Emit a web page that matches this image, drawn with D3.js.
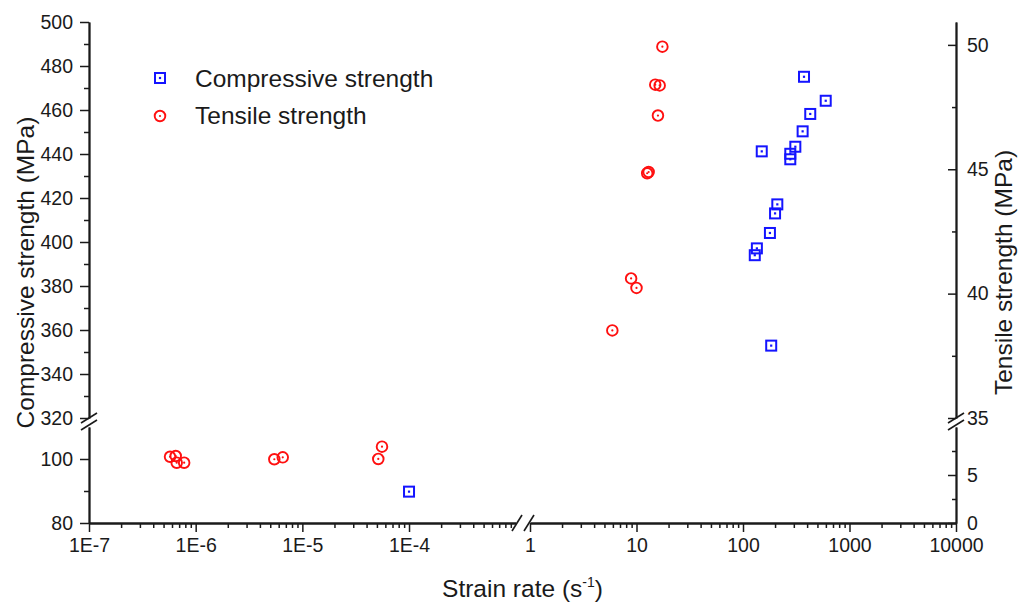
<!DOCTYPE html>
<html>
<head>
<meta charset="utf-8">
<script src="https://cdn.jsdelivr.net/npm/d3@7"></script>
<style>
  body { margin: 0; background: #fff; }
  svg text { font-family: "Liberation Sans", Arial, sans-serif; fill: #1a1a1a; }
</style>
</head>
<body>
<div id="chart"></div>
<script>
// compressive strength (left axis, MPa) vs strain rate (1/s)
var compRate = [374, 598, 428, 363, 310, 278, 278, 150, 210, 200, 179, 135, 129, 184, 1e-4];
var compStrength = [475.1, 464.2, 458.2, 450.3, 443.3, 440.1, 437.6, 441.2, 417.1, 413.0, 404.1, 397.1, 394.0, 352.9, 89.8];

// tensile strength (right axis, MPa) vs strain rate (1/s)
var tensRate = [17.5, 15.0, 16.5, 15.9, 12.6, 13.0, 8.9, 10.0, 5.93,
                5.75e-7, 6.5e-7, 6.64e-7, 7.8e-7, 5.46e-6, 6.55e-6, 5.15e-5, 5.58e-5];
var tensStrength = [49.93, 48.4, 48.37, 47.16, 44.84, 44.89, 40.61, 40.23, 38.52,
                    6.9, 6.98, 6.28, 6.28, 6.64, 6.84, 6.67, 7.95];

// tick labels
var xLowTicks = [1e-7, 1e-6, 1e-5, 1e-4];
var xLowLabels = ["1E-7", "1E-6", "1E-5", "1E-4"];
var xHighTicks = [1, 10, 100, 1000, 10000];
var xHighLabels = ["1", "10", "100", "1000", "10000"];
var yLeftUpTicks = [320, 340, 360, 380, 400, 420, 440, 460, 480, 500];
var yLeftLowTicks = [80, 100];
var yRightUpTicks = [35, 40, 45, 50];
var yRightLowTicks = [0, 5];

var legendNames = ["Compressive strength", "Tensile strength"];

(function(){
var W = 1019, H = 603;
var pL = 89, pR = 956, pT = 22, pB = 523;
var blue = "#1414ff", red = "#ff1010";
var tickFont = 19.5, titleFont = 24.5;

var svg = d3.select("#chart").append("svg")
    .attr("width", W)
    .attr("height", H);

// broken x scale
var xLow = d3.scaleLog().domain([1e-7, 1e-3]).range([pL, 515.7]);
var xHigh = d3.scaleLog().domain([1, 1e4]).range([530, pR]);
function xPos(v){
    return v < 0.01 ? xLow(v) : xHigh(v);
}

// broken y scales
var yLeftUp = d3.scaleLinear().domain([320, 500]).range([418, pT]);
var yLeftLow = d3.scaleLinear().domain([80, 110]).range([pB, 427]);
var yRightUp = d3.scaleLinear().domain([35, 50.92]).range([418, pT]);
var yRightLow = d3.scaleLinear().domain([0, 10]).range([pB, 427]);
function yLeft(v){ return v > 200 ? yLeftUp(v) : yLeftLow(v); }
function yRight(v){ return v > 20 ? yRightUp(v) : yRightLow(v); }

function minorsLog(lo, hi){
    var out = [];
    for (var e = lo; e < hi; e++){
        for (var k = 2; k <= 9; k++) out.push(k * Math.pow(10, e));
    }
    return out;
}

function styleAxis(g){
    g.selectAll("path.domain").attr("stroke", "#1a1a1a").attr("stroke-width", 1.8);
    g.selectAll(".tick line").attr("stroke", "#1a1a1a").attr("stroke-width", 1.5);
    g.selectAll(".tick text").attr("font-size", tickFont).attr("fill", "#1a1a1a")
        .style("font-family", "'Liberation Sans', Arial, sans-serif");
}

function minorAxis(axis){
    return axis.tickSize(5).tickFormat("").tickSizeOuter(0);
}

// x axis, two pieces
var gx = svg.append("g").attr("transform", "translate(0," + pB + ")");
gx.append("g").call(minorAxis(d3.axisBottom(xLow).tickValues(minorsLog(-7, -3)))).call(styleAxis);
gx.append("g").call(minorAxis(d3.axisBottom(xHigh).tickValues(minorsLog(0, 4)))).call(styleAxis);
gx.append("g").call(d3.axisBottom(xLow).tickValues(xLowTicks).tickSize(9).tickSizeOuter(0).tickPadding(6)
    .tickFormat(function(d, i){ return xLowLabels[i]; })).call(styleAxis);
gx.append("g").call(d3.axisBottom(xHigh).tickValues(xHighTicks).tickSize(9).tickSizeOuter(0).tickPadding(6)
    .tickFormat(function(d, i){ return xHighLabels[i]; })).call(styleAxis);

// left y axis, two pieces
var gl = svg.append("g").attr("transform", "translate(" + pL + ",0)");
gl.append("g").call(minorAxis(d3.axisLeft(yLeftUp).tickValues(d3.range(330, 500, 20)))).call(styleAxis);
gl.append("g").call(minorAxis(d3.axisLeft(yLeftLow).tickValues([90]))).call(styleAxis);
gl.append("g").call(d3.axisLeft(yLeftUp).tickValues(yLeftUpTicks).tickSize(9).tickSizeOuter(0).tickPadding(7)
    .tickFormat(d3.format("d"))).call(styleAxis);
gl.append("g").call(d3.axisLeft(yLeftLow).tickValues(yLeftLowTicks).tickSize(9).tickSizeOuter(0).tickPadding(7)
    .tickFormat(d3.format("d"))).call(styleAxis);

// right y axis, ticks pointing inward
var gr = svg.append("g").attr("transform", "translate(" + pR + ",0)");
gr.append("g").call(d3.axisRight(yRightUp).tickValues([37.5, 42.5, 47.5]).tickSize(-4).tickSizeOuter(0).tickFormat(""))
    .call(styleAxis);
gr.append("g").call(d3.axisRight(yRightLow).tickValues([2.5, 7.5]).tickSize(-4).tickSizeOuter(0).tickFormat(""))
    .call(styleAxis);
gr.append("g").call(d3.axisRight(yRightUp).tickValues(yRightUpTicks).tickSize(-8).tickSizeOuter(0).tickPadding(11)
    .tickFormat(d3.format("d"))).call(styleAxis);
gr.append("g").call(d3.axisRight(yRightLow).tickValues(yRightLowTicks).tickSize(-8).tickSizeOuter(0).tickPadding(11)
    .tickFormat(d3.format("d"))).call(styleAxis);

// break marks
function slash(x, y, dx, dy){
    svg.append("line")
        .attr("x1", x - dx).attr("y1", y + dy)
        .attr("x2", x + dx).attr("y2", y - dy)
        .attr("stroke", "#1a1a1a").attr("stroke-width", 1.6);
}
[pL, pR].forEach(function(x){
    slash(x, 418, 8, 5);
    slash(x, 425, 8, 5);
});
slash(517, pB, 5, 8);
slash(529, pB, 5, 8);

// marker drawing helpers
function drawSquare(g){
    g.append("rect")
        .attr("x", -5).attr("y", -5)
        .attr("width", 10).attr("height", 10)
        .attr("fill", "none")
        .attr("stroke", blue)
        .attr("stroke-width", 2);
    g.append("rect")
        .attr("x", -1.1).attr("y", -1.1)
        .attr("width", 2.2).attr("height", 2.2)
        .attr("fill", blue);
}
function drawCircle(g){
    g.append("circle")
        .attr("r", 5.3)
        .attr("fill", "none")
        .attr("stroke", red)
        .attr("stroke-width", 1.9);
    g.append("circle")
        .attr("r", 1.1)
        .attr("fill", red);
}

// compressive points (squares)
var comp = compRate.map(function(r, i){ return {x: r, y: compStrength[i]}; });
svg.append("g").selectAll("g")
    .data(comp)
    .enter()
    .append("g")
    .attr("transform", function(d){
        return "translate(" + [xPos(d.x), yLeft(d.y)] + ")";
    })
    .call(drawSquare);

// tensile points (circles)
var tens = tensRate.map(function(r, i){ return {x: r, y: tensStrength[i]}; });
svg.append("g").selectAll("g")
    .data(tens)
    .enter()
    .append("g")
    .attr("transform", function(d){
        return "translate(" + [xPos(d.x), yRight(d.y)] + ")";
    })
    .call(drawCircle);

// legend
var lg = svg.append("g");
lg.append("g").attr("transform", "translate(160,78)").call(drawSquare);
lg.append("g").attr("transform", "translate(160,116)").call(drawCircle);
lg.selectAll("text.leg")
    .data(legendNames)
    .enter()
    .append("text")
    .attr("class", "leg")
    .attr("x", 195)
    .attr("y", function(d, i){ return 87 + i * 37; })
    .attr("font-size", titleFont)
    .text(function(d){ return d; });

// axis titles
svg.append("text")
    .attr("transform", "translate(34," + ((pT + pB) / 2) + ") rotate(-90)")
    .attr("text-anchor", "middle")
    .attr("font-size", titleFont)
    .text("Compressive strength (MPa)");
svg.append("text")
    .attr("transform", "translate(1012," + ((pT + pB) / 2) + ") rotate(-90)")
    .attr("text-anchor", "middle")
    .attr("font-size", titleFont)
    .text("Tensile strength (MPa)");
var xt = svg.append("text")
    .attr("x", (pL + pR) / 2)
    .attr("y", 597)
    .attr("text-anchor", "middle")
    .attr("font-size", titleFont);
xt.append("tspan").text("Strain rate (s");
xt.append("tspan").attr("font-size", 14).attr("dy", -10).text("-1");
xt.append("tspan").attr("dy", 10).text(")");
})();
</script>
</body>
</html>
